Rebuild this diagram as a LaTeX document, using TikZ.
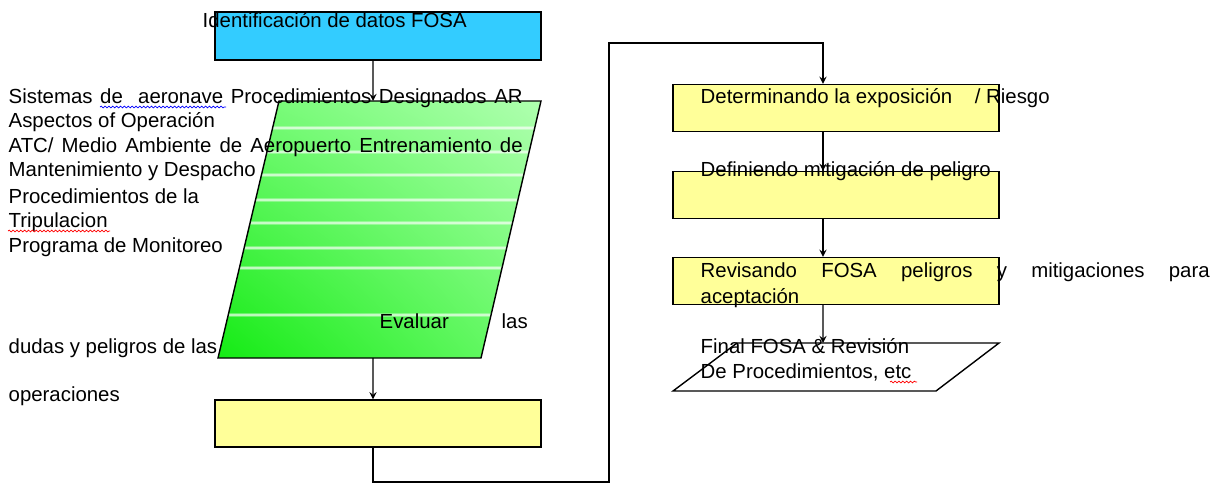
\documentclass[tikz,border=0pt]{standalone}
\usepackage{fontspec}
\setmainfont{Liberation Sans}
\usetikzlibrary{shadings, decorations.pathmorphing}

\definecolor{fosablue}{RGB}{51,204,255}
\definecolor{fosayellow}{RGB}{255,255,153}
\definecolor{greendark}{RGB}{20,235,20}
\definecolor{greenmid}{RGB}{110,250,110}
\definecolor{greenlight}{RGB}{175,255,175}

\newcommand{\jline}[2]{\makebox[#1][s]{#2}}

\tikzset{
    box/.style={draw, line width=0.8pt, inner sep=0pt, minimum width=65.2mm, minimum height=9.4mm},
    txt/.style={anchor=base west, inner sep=0pt, font=\fontsize{11.6}{13.6}\selectfont},
    spell/.style={decorate, decoration={snake, amplitude=0.5pt, segment length=2.2pt}, line width=0.4pt}
}

\begin{document}
\begin{tikzpicture}[x=0.2mm, y=-0.2mm, >=stealth, line width=0.8pt]
    \useasboundingbox (0,0) rectangle (1214,484);
    % columna izquierda
    \node[box, fill=fosablue, minimum height=9.6mm] (ident) at (378,36) {};
    \begin{scope}
        \clip (279,101) -- (541,101) -- (481,358) -- (218,358) -- cycle;
        \shade[upper left=greenmid, upper right=greenlight, lower left=greendark, lower right=greenmid] (218,101) rectangle (541,358);
        \foreach \y in {128,152,175,200,223,248,268,315} {
            \draw[white, opacity=0.3, line width=2.6pt] (210,\y) -- (550,\y);
            \draw[white, opacity=0.55, line width=1.2pt] (210,\y) -- (550,\y);
        }
    \end{scope}
    \draw (279,101) -- (541,101) -- (481,358) -- (218,358) -- cycle;
    \coordinate (evalTop) at (373,101);
    \coordinate (evalBot) at (373,358);
    \node[box, fill=fosayellow] (low) at (378,423.5) {};

    % columna derecha
    \node[box, fill=fosayellow] (r1) at (836,108) {};
    \node[box, fill=fosayellow] (r2) at (836,195) {};
    \node[box, fill=fosayellow] (r3) at (836,281) {};
    \draw (737,343) -- (999,343) -- (936,391) -- (673,391) -- cycle;
    \coordinate (finTop) at (823,343);

    % conectores
    \draw[->] ([xshift=-1mm]ident.south) -- (evalTop);
    \draw[->] (evalBot) -- ([xshift=-1mm]low.north);
    \coordinate (loopA) at (609,482);
    \coordinate (loopB) at (609,43);
    \draw[->] ([xshift=-1mm]low.south) |- (loopA) -- (loopB) -| ([xshift=-2.6mm]r1.north);
    \draw[->] ([xshift=-2.6mm]r1.south) -- ([xshift=-2.6mm]r2.north);
    \draw[->] ([xshift=-2.6mm]r2.south) -- ([xshift=-2.6mm]r3.north);
    \draw[->] ([xshift=-2.6mm]r3.south) -- (finTop);

    % textos
    \node[txt] (identT) at (202,27) {Identificación de datos FOSA};
    \node[txt] (l1) at (8,103) {\jline{102.8mm}{Sistemas de\ \ aeronave Procedimientos Designados AR}};
    \node[txt] (l2) at (8,127) {Aspectos of Operación};
    \node[txt] (l3) at (8,152) {\jline{102.8mm}{ATC/ Medio Ambiente de Aeropuerto Entrenamiento de}};
    \node[txt] (l4) at (8,176) {Mantenimiento y Despacho};
    \node[txt] (l5) at (8,203) {Procedimientos de la};
    \node[txt] (l6) at (8,227) {Tripulacion};
    \node[txt] (l7) at (8,252) {Programa de Monitoreo};
    \node[txt] (eval1) at (379,328) {Evaluar};
    \node[txt] (eval2) at (501,328) {las};
    \node[txt] (eval3) at (8,353) {dudas y peligros de las};
    \node[txt] (eval4) at (8,401) {operaciones};
    \node[txt] (t1) at (700,103) {Determinando la exposición~~~ / Riesgo};
    \node[txt] (t2) at (700,176) {Definiendo mitigación de peligro};
    \node[txt] (t3) at (700,277) {\jline{101.8mm}{Revisando FOSA peligros y mitigaciones para}};
    \node[txt] (t3b) at (700,303) {aceptación};
    \node[txt] (t4) at (700,353) {Final FOSA \& Revisión};
    \node[txt] (t4b) at (700,378) {De Procedimientos, etc};

    % subrayados del corrector
    \draw[spell, blue] (100,107) -- (226,107);
    \draw[spell, red] (8,231) -- (110,231);
    \draw[spell, red] (890,382) -- (917,382);
\end{tikzpicture}
\end{document}
